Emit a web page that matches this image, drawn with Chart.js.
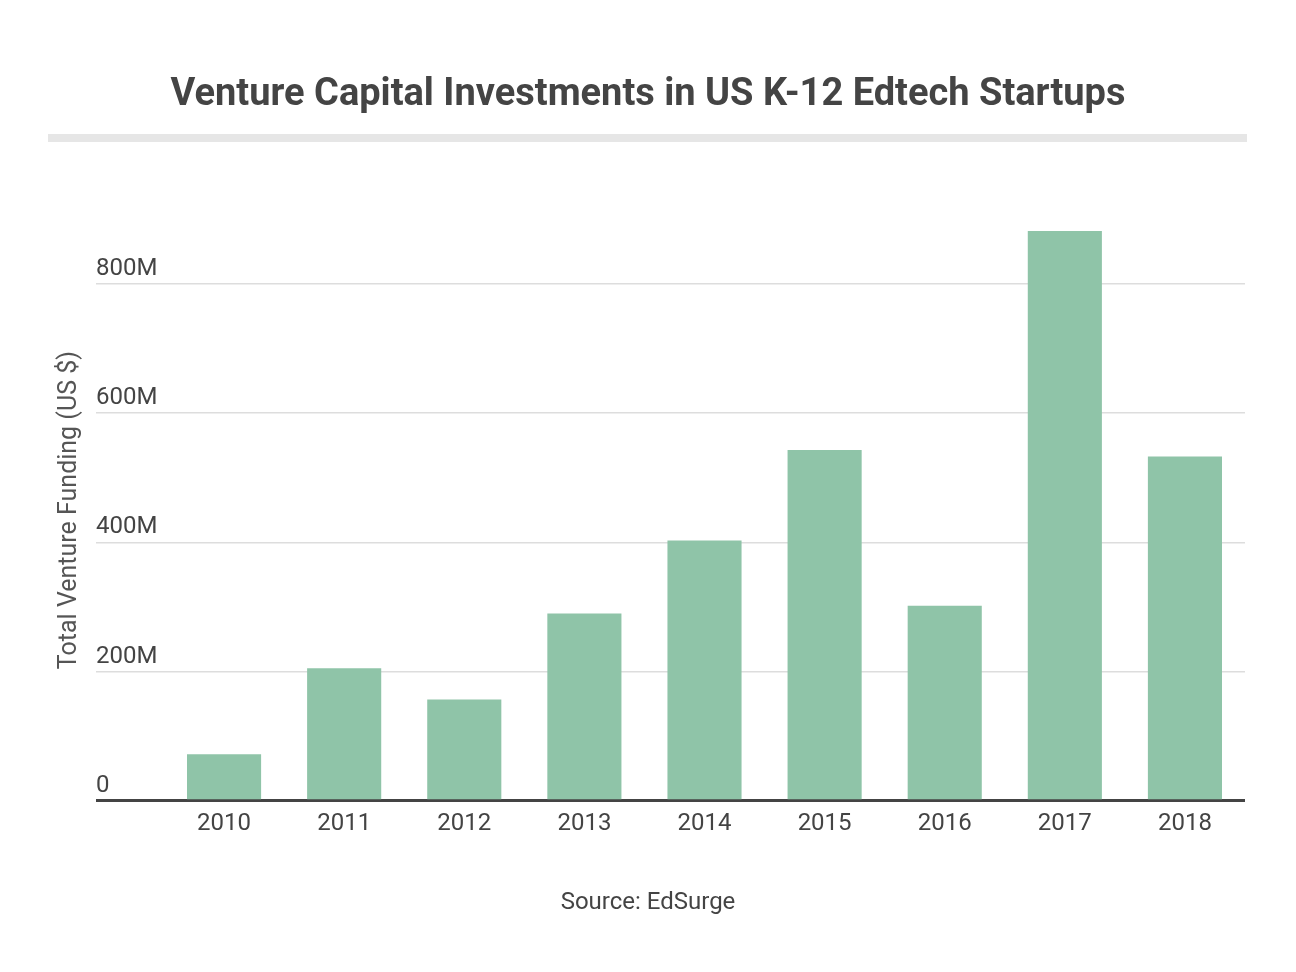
<!DOCTYPE html>
<html>
<head>
<meta charset="utf-8">
<script src="https://cdn.jsdelivr.net/npm/chart.js@4/dist/chart.umd.min.js"></script>
<style>
  html, body { margin: 0; padding: 0; background: #fff; }
  #wrap { width: 1296px; height: 972px; }
</style>
</head>
<body>
<div id="wrap"><canvas id="c" width="1296" height="972"></canvas></div>
<script>
const categories = ['2010', '2011', '2012', '2013', '2014', '2015', '2016', '2017', '2018'];
const fundingMillions = [72, 205, 157, 290, 403, 543, 302, 882, 533];
const yTickValues = [0, 200, 400, 600, 800];
const yTickLabels = ['0', '200M', '400M', '600M', '800M'];

const titleText = 'Venture Capital Investments in US K-12 Edtech Startups';
const yTitleText = 'Total Venture Funding (US $)';
const sourceText = 'Source: EdSurge';

const titleRule = {
  id: 'titleRule',
  beforeDraw(chart) {
    const ctx = chart.ctx;
    ctx.save();
    ctx.fillStyle = '#e6e6e6';
    ctx.fillRect(48, 134, 1199, 8);
    ctx.restore();
  }
};

new Chart(document.getElementById('c'), {
  type: 'bar',
  data: {
    labels: categories,
    datasets: [{
      data: fundingMillions,
      backgroundColor: '#8fc4a8',
      borderWidth: 0,
      categoryPercentage: 1,
      barPercentage: 0.617
    }]
  },
  options: {
    responsive: false,
    animation: false,
    layout: { padding: { left: 51, right: 51, top: 0, bottom: 54.6 } },
    plugins: {
      legend: { display: false },
      tooltip: { enabled: false },
      title: {
        display: true,
        text: titleText,
        color: '#444444',
        font: { family: 'Roboto', size: 38, weight: 'bold' },
        padding: { top: 73, bottom: 100.8 }
      },
      subtitle: {
        display: true,
        text: sourceText,
        position: 'bottom',
        color: '#444444',
        font: { family: 'Roboto', size: 24 },
        padding: { top: 41, bottom: 0 }
      }
    },
    scales: {
      x: {
        grid: { display: false, drawTicks: false },
        border: { display: false },
        ticks: {
          color: '#444444',
          font: { family: 'Roboto', size: 24 },
          padding: 9,
          maxRotation: 0
        }
      },
      y: {
        min: 0,
        max: 900,
        afterBuildTicks(scale) {
          scale.ticks = yTickValues.map(v => ({ value: v }));
        },
        afterFit(scale) {
          scale.width = 113;
        },
        border: { display: false },
        grid: {
          drawTicks: true,
          tickLength: 68,
          color: ctx => (ctx.tick && ctx.tick.value === 0) ? '#444444' : '#dddddd',
          lineWidth: ctx => (ctx.tick && ctx.tick.value === 0) ? 3 : 1.5
        },
        ticks: {
          mirror: true,
          padding: -68,
          crossAlign: 'near',
          color: '#444444',
          font: { family: 'Roboto', size: 24, lineHeight: 1.25 },
          callback: (value) => {
            const i = yTickValues.indexOf(value);
            return i >= 0 ? [yTickLabels[i], ''] : null;
          }
        },
        title: {
          display: true,
          text: yTitleText,
          color: '#555555',
          font: { family: 'Roboto', size: 25 },
          padding: { top: 4, bottom: 11 }
        }
      }
    }
  },
  plugins: [titleRule]
});
</script>
</body>
</html>
